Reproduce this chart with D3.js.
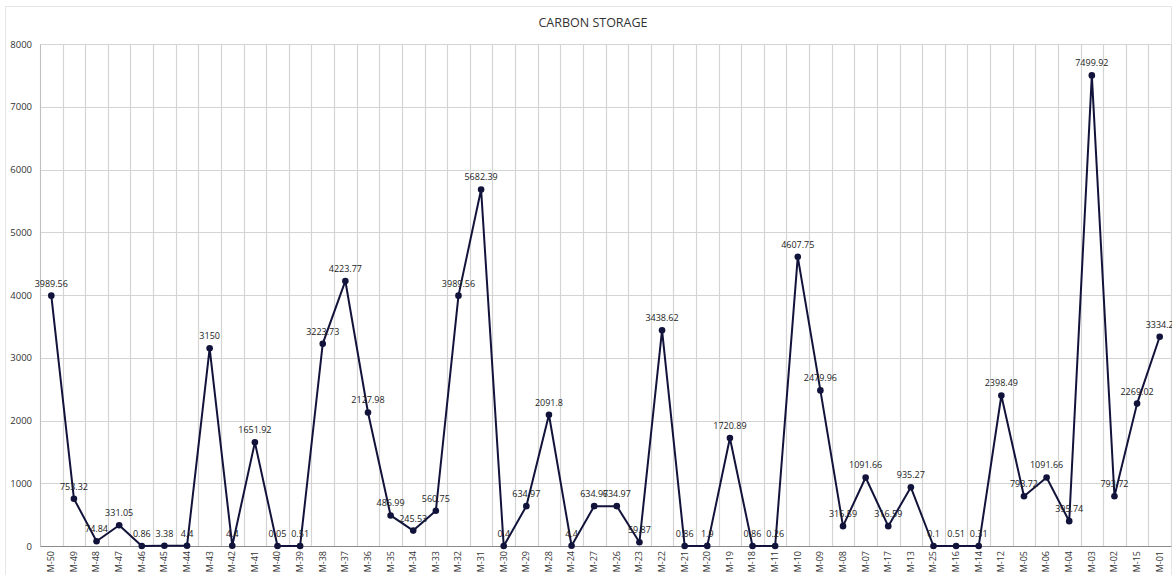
<!DOCTYPE html>
<html>
<head>
<meta charset="utf-8">
<script src="https://cdn.jsdelivr.net/npm/d3@7"></script>
<style>
  html, body { margin: 0; padding: 0; background: #fff; }
  svg { display: block; font-family: "Open Sans", "Liberation Sans", sans-serif; }
</style>
</head>
<body>
<svg id="chart" width="1172" height="575"></svg>
<script>
// Site codes along the x axis, in plotted order
const sites = ["M-50","M-49","M-48","M-47","M-46","M-45","M-44","M-43","M-42","M-41",
  "M-40","M-39","M-38","M-37","M-36","M-35","M-34","M-33","M-32","M-31",
  "M-30","M-29","M-28","M-24","M-27","M-26","M-23","M-22","M-21","M-20",
  "M-19","M-18","M-11","M-10","M-09","M-08","M-07","M-17","M-13","M-25",
  "M-16","M-14","M-12","M-05","M-06","M-04","M-03","M-02","M-15","M-01"];

// Carbon storage per site
const storage = [3989.56, 753.32, 74.84, 331.05, 0.86, 3.38, 4.4, 3150, 4.4, 1651.92,
  0.05, 0.51, 3223.73, 4223.77, 2127.98, 486.99, 245.53, 560.75, 3989.56, 5682.39,
  0.4, 634.97, 2091.8, 4.4, 634.97, 634.97, 59.87, 3438.62, 0.86, 1.9,
  1720.89, 0.86, 0.26, 4607.75, 2479.96, 316.59, 1091.66, 316.59, 935.27, 0.1,
  0.51, 0.31, 2398.49, 793.72, 1091.66, 395.74, 7499.92, 793.72, 2269.02, 3334.2];

const yTicks = [0, 1000, 2000, 3000, 4000, 5000, 6000, 7000, 8000];

const svg = d3.select("#chart");
const W = 1172, H = 575;
const m = { top: 44, right: 1, bottom: 29, left: 40 };

// chart-area frame
svg.append("rect")
  .attr("x", 5.5).attr("y", 6.5)
  .attr("width", W - 6).attr("height", H - 6)
  .attr("fill", "none").attr("stroke", "#e6e6e6");

svg.append("text")
  .attr("x", 593).attr("y", 27)
  .attr("text-anchor", "middle")
  .attr("font-size", 12.5).attr("fill", "#333")
  .text("CARBON STORAGE");

const x = d3.scaleBand().domain(sites)
  .range([m.left, W - m.right]).paddingInner(0).paddingOuter(0);
const y = d3.scaleLinear().domain([0, 8000]).range([H - m.bottom, m.top]);

const g = svg.append("g");

// horizontal gridlines
g.append("g").selectAll("line").data(yTicks.filter(d => d > 0)).join("line")
  .attr("x1", m.left).attr("x2", W - m.right)
  .attr("y1", d => Math.round(y(d)) + 0.5).attr("y2", d => Math.round(y(d)) + 0.5)
  .attr("stroke", "#d4d4d4").attr("stroke-width", 1.2);

// vertical gridlines between categories
const bounds = sites.map(s => x(s)).concat([x(sites[sites.length - 1]) + x.bandwidth()]);
g.append("g").selectAll("line").data(bounds).join("line")
  .attr("x1", d => Math.round(d) + 0.5).attr("x2", d => Math.round(d) + 0.5)
  .attr("y1", y(8000)).attr("y2", y(0))
  .attr("stroke", "#d4d4d4").attr("stroke-width", 1.2);

// y axis
const yAxis = g.append("g")
  .attr("transform", `translate(${m.left},0)`)
  .call(d3.axisLeft(y).tickValues(yTicks).tickFormat(d3.format("d")).tickSize(0).tickPadding(8));
yAxis.select(".domain").attr("stroke", "#bfbfbf");
yAxis.selectAll("text").attr("font-size", 9.5).attr("fill", "#333")
  .attr("font-family", "'Open Sans', 'Liberation Sans', sans-serif");

// x axis
const xAxis = g.append("g")
  .attr("transform", `translate(0,${y(0)})`)
  .call(d3.axisBottom(x).tickSize(0).tickPadding(4));
xAxis.select(".domain").attr("stroke", "#8a8a8a").attr("stroke-width", 1.2);
xAxis.selectAll(".tick text")
  .attr("font-size", 9).attr("fill", "#333")
  .attr("font-family", "'Open Sans', 'Liberation Sans', sans-serif")
  .attr("transform", "rotate(-90)")
  .attr("text-anchor", "end")
  .attr("x", -5).attr("y", 0).attr("dy", "0.32em");

const pts = sites.map((s, i) => ({ s, v: storage[i] }));
const cx = d => x(d.s) + x.bandwidth() / 2;

g.append("path").datum(pts)
  .attr("fill", "none").attr("stroke", "#12133a").attr("stroke-width", 2)
  .attr("stroke-linejoin", "round")
  .attr("d", d3.line().x(cx).y(d => y(d.v)));

g.append("g").selectAll("circle").data(pts).join("circle")
  .attr("cx", cx).attr("cy", d => y(d.v)).attr("r", 3.3)
  .attr("fill", "#12133a");

g.append("g").selectAll("text").data(pts).join("text")
  .attr("x", cx).attr("y", d => y(d.v) - 9)
  .attr("text-anchor", "middle")
  .attr("font-size", 9).attr("fill", "#222")
  .text(d => String(d.v));
</script>
</body>
</html>
